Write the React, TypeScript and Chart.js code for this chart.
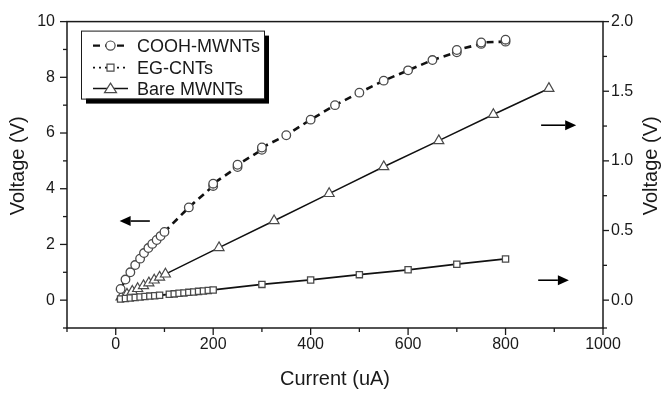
import React, { useEffect, useRef } from "react";
import { Chart, registerables } from "chart.js";

Chart.register(...registerables);

// ---------------- data ----------------
const seriesLabels = ["COOH-MWNTs", "EG-CNTs", "Bare MWNTs"];

const coohCurrent = [10, 20, 30, 40, 50, 58, 67, 75, 84, 92, 100, 150, 200, 200, 250, 250, 300, 300, 350, 400, 450, 500, 550, 600, 650, 700, 700, 750, 750, 800, 800];
const coohVoltage = [0.4, 0.74, 1.0, 1.26, 1.49, 1.69, 1.87, 2.02, 2.16, 2.3, 2.45, 3.33, 4.1, 4.18, 4.78, 4.86, 5.4, 5.48, 5.92, 6.48, 7.0, 7.45, 7.88, 8.25, 8.62, 8.9, 8.98, 9.2, 9.25, 9.28, 9.35];

const egCurrent = [10, 20, 30, 40, 50, 60, 70, 80, 90, 110, 120, 130, 140, 150, 160, 170, 180, 190, 200, 300, 400, 500, 600, 700, 800];
const egVoltage = [0.008, 0.012, 0.016, 0.019, 0.022, 0.026, 0.029, 0.032, 0.035, 0.042, 0.045, 0.049, 0.052, 0.056, 0.059, 0.063, 0.066, 0.07, 0.073, 0.113, 0.145, 0.183, 0.218, 0.258, 0.296];

const bareCurrent = [11, 23, 34, 45, 57, 68, 79, 90, 102, 212, 325, 438, 550, 663, 775, 889];
const bareVoltage = [0.022, 0.043, 0.063, 0.083, 0.104, 0.124, 0.144, 0.165, 0.187, 0.377, 0.57, 0.765, 0.958, 1.145, 1.333, 1.52];

const xMajorLabels = [0, 200, 400, 600, 800, 1000];
const yLeftMajorLabels = [0, 2, 4, 6, 8, 10];
const yRightMajorLabels = [0, 0.5, 1.0, 1.5, 2.0];

// annotation arrows (data coordinates): [tailX, tipX, y, axis]
const arrowTailX = [70, 873, 867];
const arrowTipX = [8, 945, 930];
const arrowY = [2.84, 1.256, 0.143];
const arrowAxis = ["y", "y2", "y2"];

const xTitle = "Current (uA)";
const yTitle = "Voltage (V)";

// ---------------- styles ----------------
const FONT = "'Liberation Sans', Arial, Helvetica, sans-serif";
const INK = "#1a1a1a";
const MARK = "#4a4a4a";

const zip = (xs: number[], ys: number[]) => xs.map((x, i) => ({ x, y: ys[i] }));

const isMajor = (v: number, list: number[]) => list.some((m) => Math.abs(m - v) < 1e-6);

const framePlugin = {
  id: "frameTicks",
  afterDraw(chart: any) {
    const ctx = chart.ctx as CanvasRenderingContext2D;
    const a = chart.chartArea;
    ctx.save();
    ctx.strokeStyle = INK;
    ctx.lineWidth = 1.5;
    ctx.strokeRect(a.left, a.top, a.right - a.left, a.bottom - a.top);
    ctx.lineWidth = 1.3;
    const major = 7;
    const minor = 4;
    const sx = chart.scales.x;
    sx.ticks.forEach((t: any) => {
      const p = sx.getPixelForValue(t.value);
      const len = isMajor(t.value, xMajorLabels) ? major : minor;
      ctx.beginPath();
      ctx.moveTo(p, a.bottom);
      ctx.lineTo(p, a.bottom + len);
      ctx.stroke();
    });
    const sy = chart.scales.y;
    sy.ticks.forEach((t: any) => {
      const p = sy.getPixelForValue(t.value);
      const len = isMajor(t.value, yLeftMajorLabels) ? major : minor;
      ctx.beginPath();
      ctx.moveTo(a.left, p);
      ctx.lineTo(a.left - len, p);
      ctx.stroke();
    });
    const sy2 = chart.scales.y2;
    sy2.ticks.forEach((t: any) => {
      const p = sy2.getPixelForValue(t.value);
      const len = isMajor(t.value, yRightMajorLabels) ? major - 1 : minor;
      ctx.beginPath();
      ctx.moveTo(a.right, p);
      ctx.lineTo(a.right + len, p);
      ctx.stroke();
    });

    // axis titles
    ctx.fillStyle = INK;
    ctx.font = `20px ${FONT}`;
    ctx.textAlign = "center";
    ctx.textBaseline = "middle";
    const cy = (a.top + a.bottom) / 2 - 9;
    ctx.save();
    ctx.translate(18, cy);
    ctx.rotate(-Math.PI / 2);
    ctx.fillText(yTitle, 0, 0);
    ctx.restore();
    ctx.save();
    ctx.translate(chart.width - 10, cy);
    ctx.rotate(-Math.PI / 2);
    ctx.fillText(yTitle, 0, 0);
    ctx.restore();
    ctx.fillText(xTitle, (a.left + a.right) / 2, chart.height - 14);

    // arrows
    ctx.fillStyle = "#000";
    ctx.strokeStyle = "#000";
    ctx.lineWidth = 1.6;
    for (let i = 0; i < arrowTailX.length; i++) {
      const ys = chart.scales[arrowAxis[i]];
      const y = ys.getPixelForValue(arrowY[i]);
      const x1 = sx.getPixelForValue(arrowTailX[i]);
      const x2 = sx.getPixelForValue(arrowTipX[i]);
      const dir = x2 > x1 ? 1 : -1;
      const head = 11;
      ctx.beginPath();
      ctx.moveTo(x1, y);
      ctx.lineTo(x2 - dir * head, y);
      ctx.stroke();
      ctx.beginPath();
      ctx.moveTo(x2, y);
      ctx.lineTo(x2 - dir * head, y - 5);
      ctx.lineTo(x2 - dir * head, y + 5);
      ctx.closePath();
      ctx.fill();
    }

    // legend
    const bx = a.left + 14;
    const by = a.top + 9;
    const bw = 183;
    const bh = 68;
    ctx.fillStyle = "#000";
    ctx.fillRect(bx + 5, by + 5, bw, bh);
    ctx.fillStyle = "#fff";
    ctx.fillRect(bx, by, bw, bh);
    ctx.strokeStyle = INK;
    ctx.lineWidth = 1;
    ctx.strokeRect(bx + 0.5, by + 0.5, bw, bh);
    const rows = [by + 15, by + 37, by + 58];
    const lx1 = bx + 12;
    const lx2 = bx + 47;
    const mx = (lx1 + lx2) / 2;
    ctx.font = `18px ${FONT}`;
    ctx.textAlign = "left";
    ctx.textBaseline = "middle";
    rows.forEach((ry, i) => {
      ctx.save();
      ctx.strokeStyle = "#111";
      if (i === 0) {
        ctx.lineWidth = 2.2;
        ctx.setLineDash([7, 5]);
      } else if (i === 1) {
        ctx.lineWidth = 1.8;
        ctx.setLineDash([2, 4]);
      } else {
        ctx.lineWidth = 1.5;
      }
      ctx.beginPath();
      ctx.moveTo(lx1, ry);
      ctx.lineTo(lx2, ry);
      ctx.stroke();
      ctx.setLineDash([]);
      ctx.fillStyle = "#fff";
      ctx.strokeStyle = MARK;
      ctx.lineWidth = 1.2;
      ctx.beginPath();
      if (i === 0) {
        ctx.arc(mx, ry, 4.6, 0, Math.PI * 2);
      } else if (i === 1) {
        ctx.rect(mx - 3.5, ry - 3.5, 7, 7);
      } else {
        ctx.moveTo(mx, ry - 5.5);
        ctx.lineTo(mx + 6, ry + 4);
        ctx.lineTo(mx - 6, ry + 4);
        ctx.closePath();
      }
      ctx.fill();
      ctx.stroke();
      ctx.restore();
      ctx.fillStyle = INK;
      ctx.fillText(seriesLabels[i], bx + 56, ry + 1);
    });
    ctx.restore();
  },
};

export default function App() {
  const ref = useRef<HTMLCanvasElement>(null);
  useEffect(() => {
    document.body.style.margin = "0";
    const tickFont = { family: FONT, size: 16 };
    const chart = new Chart(ref.current as HTMLCanvasElement, {
      type: "line",
      data: {
        datasets: [
          {
            label: seriesLabels[0],
            data: zip(coohCurrent, coohVoltage),
            yAxisID: "y",
            borderColor: "#111",
            borderWidth: 2.6,
            borderDash: [7, 5],
            pointStyle: "circle",
            pointRadius: 4.3,
            pointBorderColor: MARK,
            pointBackgroundColor: "#fff",
            pointBorderWidth: 1.3,
            tension: 0,
          },
          {
            label: seriesLabels[1],
            data: zip(egCurrent, egVoltage),
            yAxisID: "y2",
            borderColor: "#111",
            borderWidth: 1.8,
            pointStyle: "rect",
            pointRadius: 4.4,
            pointBorderColor: MARK,
            pointBackgroundColor: "#fff",
            pointBorderWidth: 1.3,
            tension: 0,
          },
          {
            label: seriesLabels[2],
            data: zip(bareCurrent, bareVoltage),
            yAxisID: "y2",
            borderColor: "#111",
            borderWidth: 1.5,
            pointStyle: "triangle",
            pointRadius: 5.8,
            pointBorderColor: MARK,
            pointBackgroundColor: "#fff",
            pointBorderWidth: 1.2,
            tension: 0,
          },
        ],
      },
      options: {
        animation: false,
        responsive: false,
        parsing: false as any,
        layout: { padding: { top: 15, left: 0, right: 0, bottom: 0 } },
        plugins: { legend: { display: false }, tooltip: { enabled: false } },
        scales: {
          x: {
            type: "linear",
            min: -100,
            max: 1000,
            grid: { display: false, drawTicks: false },
            border: { display: false },
            afterFit: (s: any) => {
              s.height = 65;
            },
            ticks: {
              stepSize: 100,
              autoSkip: false,
              maxRotation: 0,
              padding: 7,
              color: INK,
              font: tickFont,
              callback: (v: any) => (isMajor(Number(v), xMajorLabels) ? String(v) : ""),
            },
          },
          y: {
            type: "linear",
            position: "left",
            min: -1,
            max: 10,
            grid: { display: false, drawTicks: false },
            border: { display: false },
            afterFit: (s: any) => {
              s.width = 67;
            },
            ticks: {
              stepSize: 1,
              autoSkip: false,
              padding: 12,
              color: INK,
              font: tickFont,
              callback: (v: any) => (isMajor(Number(v), yLeftMajorLabels) ? String(v) : ""),
            },
          },
          y2: {
            type: "linear",
            position: "right",
            min: -0.2,
            max: 2.0,
            grid: { display: false, drawTicks: false },
            border: { display: false },
            afterFit: (s: any) => {
              s.width = 58;
            },
            ticks: {
              stepSize: 0.25,
              autoSkip: false,
              padding: 8,
              color: INK,
              font: tickFont,
              callback: (v: any) => (isMajor(Number(v), yRightMajorLabels) ? Number(v).toFixed(1) : ""),
            },
          },
        },
      },
      plugins: [framePlugin],
    } as any);
    return () => chart.destroy();
  }, []);
  return (
    <div style={{ position: "fixed", left: 0, top: 0, width: 661, height: 393, background: "#fff" }}>
      <canvas ref={ref} width={661} height={393} style={{ display: "block" }} />
    </div>
  );
}
